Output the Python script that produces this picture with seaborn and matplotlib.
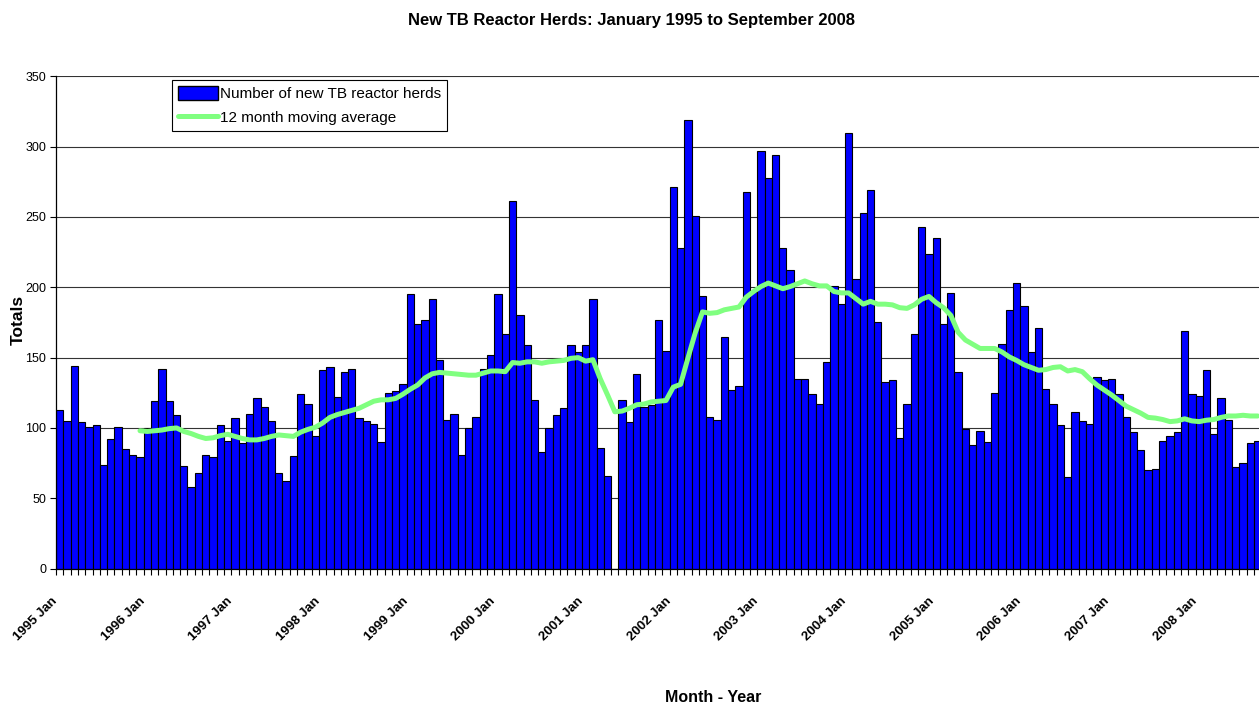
import numpy as np
import pandas as pd
import matplotlib
matplotlib.use("Agg")
import matplotlib.pyplot as plt
import seaborn as sns
from matplotlib.patches import Patch
from matplotlib.lines import Line2D

# monthly counts of new TB reactor herds
herds_1995 = [113, 105, 144, 104, 101, 102, 74, 92, 101, 85, 81, 79]
herds_1996 = [100, 119, 142, 119, 109, 73, 58, 68, 81, 79, 102, 91]
herds_1997 = [107, 89, 110, 121, 115, 105, 68, 62, 80, 124, 117, 94]
herds_1998 = [141, 143, 122, 140, 142, 107, 105, 103, 90, 125, 126, 131]
herds_1999 = [195, 174, 177, 192, 148, 106, 110, 81, 100, 108, 142, 152]
herds_2000 = [195, 167, 261, 180, 159, 120, 83, 100, 109, 114, 159, 154]
herds_2001 = [159, 192, 86, 66, 0, 120, 104, 138, 115, 116, 177, 155]
herds_2002 = [271, 228, 319, 251, 194, 108, 106, 165, 127, 130, 268, 197]
herds_2003 = [297, 278, 294, 228, 212, 135, 135, 124, 117, 147, 201, 188]
herds_2004 = [310, 206, 253, 269, 175, 133, 134, 93, 117, 167, 243, 224]
herds_2005 = [235, 174, 196, 140, 99, 88, 98, 90, 125, 160, 184, 203]
herds_2006 = [187, 154, 171, 128, 117, 102, 65, 111, 105, 103, 136, 134]
herds_2007 = [135, 124, 108, 97, 84, 70, 71, 91, 94, 97, 169, 124]
herds_2008 = [123, 141, 96, 121, 106, 72, 75, 89, 91]

# 12 month moving average line (starts Dec 1995)
ma_1995 = [98]
ma_1996 = [97.5, 98, 98.5, 99.5, 100, 97.5, 96, 94, 92.5, 93, 94.5, 95.5]
ma_1997 = [94, 92.5, 91.5, 91.5, 92.5, 94, 95, 94.5, 94, 97, 99, 100.5]
ma_1998 = [103.5, 107.5, 109.5, 111, 112.5, 114, 116.5, 119, 120, 120, 121, 124]
ma_1999 = [127.5, 130.5, 135.5, 138.5, 139.5, 139, 138.5, 138, 137.5, 137.5, 139, 140.5]
ma_2000 = [140.5, 140, 146.5, 146, 147, 147, 146, 147, 147.5, 148, 149.5, 150]
ma_2001 = [147.5, 148.5, 135, 123.5, 111.5, 112, 114, 116.5, 117, 118.5, 119, 119.5]
ma_2002 = [129, 131, 149.5, 167.5, 182.5, 181.5, 182, 184, 185, 186, 193, 197]
ma_2003 = [200.5, 203, 201, 199, 200.5, 202.5, 204.5, 202.5, 201, 201, 197, 196]
ma_2004 = [196, 192, 188, 190, 188, 188, 187.5, 185.5, 185, 187.5, 191.5, 193.5]
ma_2005 = [189, 185.5, 180, 168, 162.5, 159.5, 156.5, 156.5, 156.5, 154, 150.5, 148]
ma_2006 = [145, 143, 141, 141.5, 143, 143.5, 140.5, 141.5, 140, 135, 130.5, 127]
ma_2007 = [123.5, 119.5, 115.5, 113, 110.5, 107.5, 107, 106, 104.5, 105, 106.5, 105]
ma_2008 = [104.5, 105.5, 106, 107.5, 108.5, 108.5, 109, 108.5, 108.5]

month_names = ['Jan', 'Feb', 'Mar', 'Apr', 'May', 'Jun',
               'Jul', 'Aug', 'Sep', 'Oct', 'Nov', 'Dec']

herds = (herds_1995 + herds_1996 + herds_1997 + herds_1998 + herds_1999 + herds_2000 +
         herds_2001 + herds_2002 + herds_2003 + herds_2004 + herds_2005 + herds_2006 +
         herds_2007 + herds_2008)
ma = (ma_1995 + ma_1996 + ma_1997 + ma_1998 + ma_1999 + ma_2000 + ma_2001 + ma_2002 +
      ma_2003 + ma_2004 + ma_2005 + ma_2006 + ma_2007 + ma_2008)

labels = [f"{1995 + i // 12} {month_names[i % 12]}" for i in range(len(herds))]
df = pd.DataFrame({'month': labels, 'herds': herds})
ma_pos = np.arange(len(herds) - len(ma), len(herds))

sns.set_theme(style="white")
plt.rcParams['font.family'] = ['Liberation Sans', 'DejaVu Sans']
plt.rcParams['text.color'] = 'black'
plt.rcParams['xtick.color'] = 'black'
plt.rcParams['ytick.color'] = 'black'
plt.rcParams['axes.labelcolor'] = 'black'

W, H = 1259, 711
fig = plt.figure(figsize=(W / 100, H / 100), dpi=100, facecolor='white')
ax = fig.add_axes([56 / W, (H - 568.6) / H, 1205.3 / W, 492.3 / H])

sns.barplot(data=df, x='month', y='herds', color='#0000FF', saturation=1,
            edgecolor='black', linewidth=0.8, width=1.0, ax=ax, zorder=2)
sns.lineplot(x=ma_pos, y=ma, color='#80FF80', linewidth=3.6, ax=ax, zorder=3)

ax.set_xlim(-0.5, len(herds) - 0.5)
ax.set_ylim(0, 350)
ax.set_yticks(np.arange(0, 351, 50))
ax.yaxis.grid(True, color='#333333', linewidth=0.8, zorder=0)
ax.set_axisbelow(True)
ax.tick_params(axis='y', which='major', left=True, length=4, width=0.8,
               color='black', labelcolor='black', labelsize=9, pad=3)

# month ticks between bars, year labels under each January
ax.set_xticks(np.arange(-0.5, len(herds), 1))
ax.set_xticklabels([])
ax.tick_params(axis='x', which='major', bottom=True, length=4, width=0.8, color='black')
jan_pos = np.arange(0, len(herds), 12)
ax.set_xticks(jan_pos, minor=True)
ax.set_xticklabels([labels[i] for i in jan_pos], minor=True, rotation=45,
                   ha='right', va='top', fontweight='bold', fontsize=9.5, color='black')
ax.tick_params(axis='x', which='minor', length=0, pad=19)

ax.set_xlabel('')
ax.set_ylabel('')
for side in ['top', 'right']:
    ax.spines[side].set_visible(False)
for side in ['left', 'bottom']:
    ax.spines[side].set_color('black')
    ax.spines[side].set_linewidth(0.9)

handles = [Patch(facecolor='#0000FF', edgecolor='black', linewidth=1.0),
           Line2D([0], [0], color='#80FF80', linewidth=3.6)]
leg = ax.legend(handles, ['Number of new TB reactor herds', '12 month moving average'],
                loc='upper left', bbox_to_anchor=(0.096, 0.993), borderaxespad=0,
                fontsize=11, frameon=True, fancybox=False, framealpha=1,
                edgecolor='black', handlelength=2.6, handleheight=1.0,
                handletextpad=0.15, borderpad=0.4, labelspacing=0.6)
leg.get_frame().set_linewidth(0.8)
for t in leg.get_texts():
    t.set_color('black')

fig.text(631 / W, 1 - 20 / H, 'New TB Reactor Herds: January 1995 to September 2008',
         ha='center', va='center', fontsize=12, fontweight='bold')
fig.text(18 / W, 1 - 320 / H, 'Totals', rotation=90, ha='center', va='center',
         fontsize=12.5, fontweight='bold')
fig.text(713 / W, 1 - 697 / H, 'Month - Year', ha='center', va='center',
         fontsize=11.5, fontweight='bold')

fig.savefig('out.png', dpi=100, facecolor='white')
